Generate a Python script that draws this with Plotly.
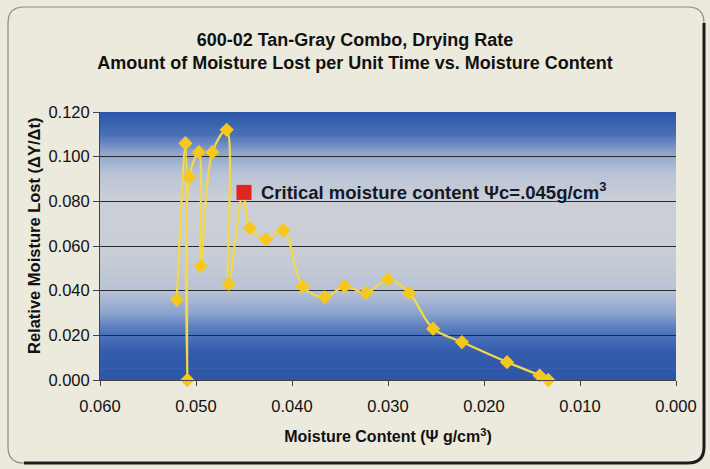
import plotly.graph_objects as go

# Drying-rate measurements: moisture content (g/cm^3) vs relative moisture lost
moisture = [0.0520, 0.0511, 0.0509, 0.0507, 0.0497, 0.0495, 0.0483, 0.0468, 0.0466,
            0.0451, 0.0444, 0.0427, 0.0409, 0.0389, 0.0366, 0.0345, 0.0323, 0.0300,
            0.0278, 0.0253, 0.0223, 0.0176, 0.0142, 0.0133]
rate = [0.036, 0.106, 0.000, 0.091, 0.102, 0.051, 0.102, 0.112, 0.043,
        0.084, 0.068, 0.063, 0.067, 0.042, 0.037, 0.042, 0.039, 0.045,
        0.039, 0.023, 0.017, 0.008, 0.002, 0.000]

crit_x = [0.045]
crit_y = [0.084]

x_ticks = [0.060, 0.050, 0.040, 0.030, 0.020, 0.010, 0.000]
y_ticks = [0.000, 0.020, 0.040, 0.060, 0.080, 0.100, 0.120]

W, H = 710, 469
ML, MR, MT, MB = 100, 34, 112, 89
PW, PH = W - ML - MR, H - MT - MB


def px(xp):
    return (xp - ML) / PW


def py(yp):
    return (H - MB - yp) / PH


FONT = "Liberation Sans, Arial, sans-serif"

fig = go.Figure()

fig.add_trace(go.Scatter(
    x=moisture, y=rate, mode="lines+markers",
    line=dict(color="#f3d84a", width=2.2, shape="spline", smoothing=1.0),
    marker=dict(symbol="diamond", size=11, color="#f7c81c"),
    cliponaxis=False, showlegend=False, hoverinfo="x+y",
))

fig.add_trace(go.Scatter(
    x=crit_x, y=crit_y, mode="markers",
    marker=dict(symbol="square", size=15, color="#e0241f"),
    showlegend=False, hoverinfo="x+y",
))

shapes = []

# Plot-area background: vertical blue / gray gradient
stops = [(0.000, (46, 86, 168)), (0.012, (52, 92, 172)), (0.022, (80, 118, 188)),
         (0.030, (140, 164, 206)), (0.040, (184, 194, 214)), (0.055, (200, 204, 212)),
         (0.080, (204, 207, 214)), (0.092, (186, 196, 214)), (0.102, (140, 163, 204)),
         (0.110, (72, 110, 182)), (0.120, (44, 86, 168))]
n = 120
for i in range(n):
    y0 = 0.12 * i / n
    y1 = 0.12 * (i + 1) / n
    ym = (y0 + y1) / 2
    for j in range(len(stops) - 1):
        a, ca = stops[j]
        b, cb = stops[j + 1]
        if a <= ym <= b:
            t = (ym - a) / (b - a)
            c = tuple(int(round(ca[k] + (cb[k] - ca[k]) * t)) for k in range(3))
            break
    shapes.append(dict(type="rect", xref="x domain", yref="y", x0=0, x1=1,
                       y0=y0, y1=y1 + 0.0003, fillcolor="rgb(%d,%d,%d)" % c,
                       line=dict(width=0), layer="below"))

# Outer rounded frame
r = 16
x0f, y0f, x1f, y1f = 8, 7, 704, 463


def frame_path():
    return (f"M {px(x0f)},{py(y0f + r)} "
            f"Q {px(x0f)},{py(y0f)} {px(x0f + r)},{py(y0f)} "
            f"L {px(x1f - r)},{py(y0f)} "
            f"Q {px(x1f)},{py(y0f)} {px(x1f)},{py(y0f + r)} "
            f"L {px(x1f)},{py(y1f - r)} "
            f"Q {px(x1f)},{py(y1f)} {px(x1f - r)},{py(y1f)} "
            f"L {px(x0f + r)},{py(y1f)} "
            f"Q {px(x0f)},{py(y1f)} {px(x0f)},{py(y1f - r)} Z")


shapes.append(dict(type="path", xref="paper", yref="paper", path=frame_path(),
                   line=dict(color="#8a8a86", width=1.2), layer="below"))
shade = (f"M {px(x0f + r)},{py(y1f)} L {px(x1f - r)},{py(y1f)} "
         f"Q {px(x1f)},{py(y1f)} {px(x1f)},{py(y1f - r)} L {px(x1f)},{py(y0f + r)}")
shapes.append(dict(type="path", xref="paper", yref="paper", path=shade,
                   line=dict(color="#1c1c1c", width=3), layer="below"))

fig.add_annotation(
    x=crit_x[0], y=crit_y[0], xanchor="left", yanchor="middle", xshift=15, yshift=1,
    text="<b>Critical moisture content Ψc=.045g/cm<sup>3</sup></b>", showarrow=False,
    font=dict(family=FONT, size=18.5, color="#14182a"),
)

# Y-axis title placed as a rotated annotation
fig.add_annotation(
    x=px(34), y=py(236), xref="paper", yref="paper",
    xanchor="center", yanchor="middle", textangle=-90, showarrow=False,
    text="<b>Relative Moisture Lost (ΔY/Δt)</b>",
    font=dict(family=FONT, size=16.5, color="#111111"),
)

fig.update_layout(
    width=W, height=H,
    margin=dict(l=ML, r=MR, t=MT, b=MB),
    paper_bgcolor="#ece9dd",
    plot_bgcolor="#c9cdd6",
    shapes=shapes,
    title=dict(
        text="<b>600-02 Tan-Gray Combo, Drying Rate<br>"
             "Amount of Moisture Lost per Unit Time vs. Moisture Content</b>",
        x=0.5, xref="container", xanchor="center",
        y=1 - 46 / H, yref="container", yanchor="middle",
        font=dict(family=FONT, size=18, color="#111111"),
    ),
    font=dict(family=FONT, color="#111111"),
    xaxis=dict(
        range=[0.060, 0.000], tickvals=x_ticks, tickformat=".3f",
        showgrid=False, zeroline=False, showline=True, linecolor="#444444",
        linewidth=1, ticks="outside", ticklen=5, tickcolor="#444444",
        ticklabelstandoff=6,
        tickfont=dict(size=16.5, color="#111111"),
        title=dict(text="<b>Moisture Content (Ψ g/cm<sup>3</sup>)</b>",
                   font=dict(size=16, color="#111111"), standoff=17),
    ),
    yaxis=dict(
        range=[0.000, 0.120], tickvals=y_ticks, tickformat=".3f",
        showgrid=True, gridcolor="#2a2a2a", gridwidth=1.3, zeroline=False,
        showline=True, linecolor="#444444", linewidth=1,
        ticks="outside", ticklen=6, tickcolor="#444444",
        tickfont=dict(size=16.5, color="#111111"),
    ),
)

fig.write_html("out.html")
